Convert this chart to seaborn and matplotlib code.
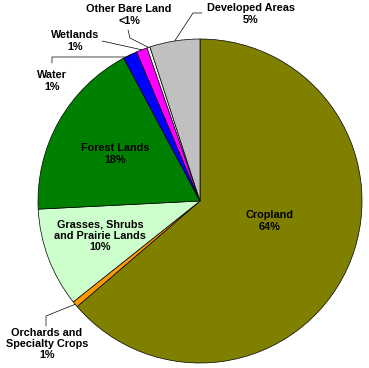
import numpy as np
import matplotlib
matplotlib.use("Agg")
import matplotlib.pyplot as plt
import seaborn as sns

categories = ["Cropland", "Orchards and\nSpecialty Crops", "Grasses, Shrubs\nand Prairie Lands",
              "Forest Lands", "Water", "Wetlands", "Other Bare Land", "Developed Areas"]
values = [63.7, 0.6, 9.9, 18.0, 1.4, 1.1, 0.3, 5.0]
pct_labels = ["64%", "1%", "10%", "18%", "1%", "1%", "<1%", "5%"]
colors = ["#808000", "#FF9900", "#CCFFCC", "#008000", "#0000FF", "#FF00FF", "#FFFFFF", "#C0C0C0"]

sns.set_style("white")
plt.rcParams['font.family'] = ['Liberation Sans', 'DejaVu Sans']
plt.rcParams['text.color'] = 'black'

W, H = 369, 368
fig = plt.figure(figsize=(W / 100, H / 100), dpi=100)
ax = fig.add_axes([0, 0, 1, 1])

CX, CY, R = 200, 201, 162

def P(px, py):
    return ((px - CX) / R, (CY - py) / R)

wedges, _ = ax.pie(values, colors=colors, startangle=90, counterclock=False, radius=1,
                   wedgeprops=dict(edgecolor="black", linewidth=0.5))
ax.set_xlim(-CX / R, (W - CX) / R)
ax.set_ylim((CY - H) / R, CY / R)
ax.set_aspect("equal")
ax.axis("off")

fs = 7.8
ls = 1.15
# inside labels
inside = {0: (270, 221), 2: (100, 236), 3: (115, 154)}
for i, (px, py) in inside.items():
    x, y = P(px, py)
    ax.text(x, y, categories[i] + "\n" + pct_labels[i], ha="center", va="center",
            fontsize=fs, fontweight="bold", linespacing=ls, color="black")

def edge_point(i, frac=0.5, r=1.0):
    w = wedges[i]
    a = np.deg2rad(w.theta1 + (w.theta2 - w.theta1) * frac)
    return (r * np.cos(a), r * np.sin(a))

# outside labels: (text center px, elbow points px)
outside = {
    7: ((251, 14), [(202, 13), (193, 13)]),
    6: ((129, 15), [(128, 30), (130, 38)]),
    5: ((75, 41), [(102, 41)]),
    4: ((52, 81), [(52, 63), (52, 57), (128, 57)]),
    1: ((47, 344), [(46, 326), (46, 316)]),
}
for i, ((px, py), elbows) in outside.items():
    x, y = P(px, py)
    ax.text(x, y, categories[i] + "\n" + pct_labels[i], ha="center", va="center",
            fontsize=fs, fontweight="bold", linespacing=ls, color="black")
    pts = [P(ex, ey) for ex, ey in elbows] + [edge_point(i)]
    xs, ys = zip(*pts)
    ax.plot(xs, ys, color="black", linewidth=0.5)

fig.savefig("out.png", dpi=100, facecolor="white")
